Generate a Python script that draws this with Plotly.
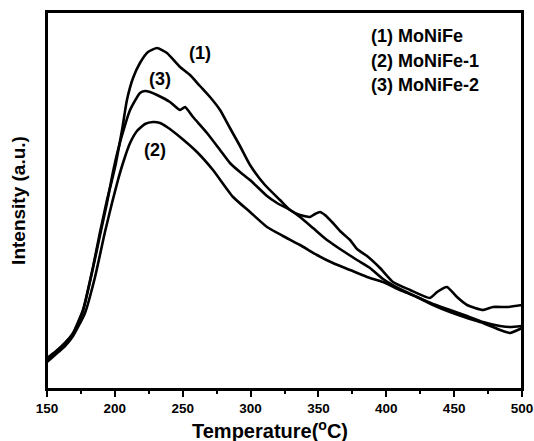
import plotly.graph_objects as go

# temperature (C) and intensity (a.u.)
t1 = [150, 155.9, 163.3, 169.2, 176.5, 183.9, 189.1, 194.2, 197.9, 200.8, 205.3, 208.9, 213.4, 218.5,
      224.4, 231.1, 238.4, 248.0, 255.4, 262.7, 270.1, 277.5, 284.8, 292.2, 299.6, 310.6, 321.7, 329.1,
      336.4, 343.8, 347.5, 351.2, 354.8, 360.7, 365.9, 373.3, 378.4, 385.8, 395.4, 404.9, 417.5, 432.2,
      437.4, 444.7, 452.1, 459.5, 471.3, 478.6, 489.2, 500]
i1 = [31, 37, 46, 56, 79, 122, 157, 189, 209, 226, 259, 289, 311, 326,
      337, 341, 336, 322, 314, 303, 292, 279, 261, 243, 224, 204, 189, 179,
      174, 172, 175, 177, 174, 166, 158, 149, 140, 133, 121, 107, 99, 91,
      97, 102, 92, 84, 79, 82, 82, 84]

t2 = [150, 155.9, 163.3, 169.2, 178.0, 185.4, 192.7, 197.9, 202.3, 206.7, 211.2, 216.3, 222.2, 228.1,
      233.3, 238.4, 248.0, 260.5, 272.3, 287.1, 299.6, 312.1, 323.9, 336.4, 348.9, 360.7, 373.3, 385.8,
      397.6, 410.1, 422.6, 434.4, 446.9, 459.5, 471.3, 483.8, 491.2, 500]
i2 = [27, 34, 43, 53, 76, 112, 157, 186, 209, 229, 246, 258, 265, 267,
      266, 262, 252, 237, 219, 192, 177, 162, 153, 144, 134, 126, 119, 112,
      107, 99, 92, 84, 77, 71, 66, 59, 56, 61]

t3 = [150, 155.9, 163.3, 169.2, 176.5, 183.9, 189.1, 194.2, 198.6, 202.3, 207.5, 211.2, 218.5, 222.2,
      225.9, 231.1, 240.6, 248.0, 251.7, 257.6, 267.9, 277.5, 284.8, 292.2, 299.6, 312.1, 319.5, 329.1,
      336.4, 346.0, 356.3, 365.9, 378.4, 388.0, 397.6, 410.1, 422.6, 434.4, 446.9, 459.5, 471.3, 483.8,
      491.2, 500]
i3 = [29, 36, 46, 55, 78, 121, 154, 186, 217, 239, 264, 279, 296, 298,
      297, 294, 287, 279, 282, 272, 256, 239, 226, 217, 209, 193, 186, 179,
      172, 161, 149, 140, 129, 121, 110, 100, 92, 85, 79, 73, 67, 63,
      62, 63]

names = ['(1) MoNiFe', '(2) MoNiFe-1', '(3) MoNiFe-2']
font = 'Liberation Sans, Arial, sans-serif'

fig = go.Figure()
for t, i, n in [(t1, i1, names[0]), (t2, i2, names[1]), (t3, i3, names[2])]:
    fig.add_trace(go.Scatter(x=t, y=i, name=n, mode='lines',
                             line=dict(color='black', width=2.6, shape='spline', smoothing=0.5),
                             showlegend=False))

# curve labels
for txt, x, y in [('(1)', 262.7, 336), ('(3)', 233.3, 310), ('(2)', 229.6, 239)]:
    fig.add_annotation(x=x, y=y, text=txt, showarrow=False,
                       font=dict(family=font, size=18, color='black', weight='bold'))

# legend as text lines
for n, yy in zip(names, [0.936, 0.870, 0.806]):
    fig.add_annotation(x=0.678, y=yy, xref='paper', yref='paper', text=n, showarrow=False,
                       xanchor='left', yanchor='middle',
                       font=dict(family=font, size=18, color='black', weight='bold'))

fig.add_annotation(x=0.469, y=-0.108, xref='paper', yref='paper',
                   text='Temperature(<sup>o</sup>C)', showarrow=False, yanchor='middle',
                   font=dict(family=font, size=20, color='black', weight='bold'))

# frame box
fig.add_shape(type='rect', xref='paper', yref='paper', x0=0, y0=0, x1=1, y1=1,
              line=dict(color='black', width=2))

fig.update_layout(
    width=534, height=441,
    margin=dict(l=47, r=12, t=12, b=52),
    plot_bgcolor='white', paper_bgcolor='white',
    font=dict(family=font, color='black'),
    xaxis=dict(
        range=[150, 500], tickmode='linear', tick0=150, dtick=50, automargin=False,
        ticks='outside', ticklen=6, tickwidth=1.5, tickcolor='black',
        minor=dict(ticks='outside', ticklen=3, tickwidth=1.5, tickcolor='black', dtick=25),
        showline=True, linecolor='black', linewidth=2, mirror=True,
        showgrid=False, zeroline=False,
        tickfont=dict(family=font, size=13.5, color='black', weight='bold'),
    ),
    yaxis=dict(
        range=[0, 377], showticklabels=False, ticks='', automargin=False,
        showline=True, linecolor='black', linewidth=2, mirror=True,
        showgrid=False, zeroline=False,
        title=dict(text='Intensity (a.u.)', standoff=14,
                   font=dict(family=font, size=19, color='black', weight='bold')),
    ),
)

fig.write_html('out.html', config={'displayModeBar': False},
               post_script="document.body.style.margin='0';")
